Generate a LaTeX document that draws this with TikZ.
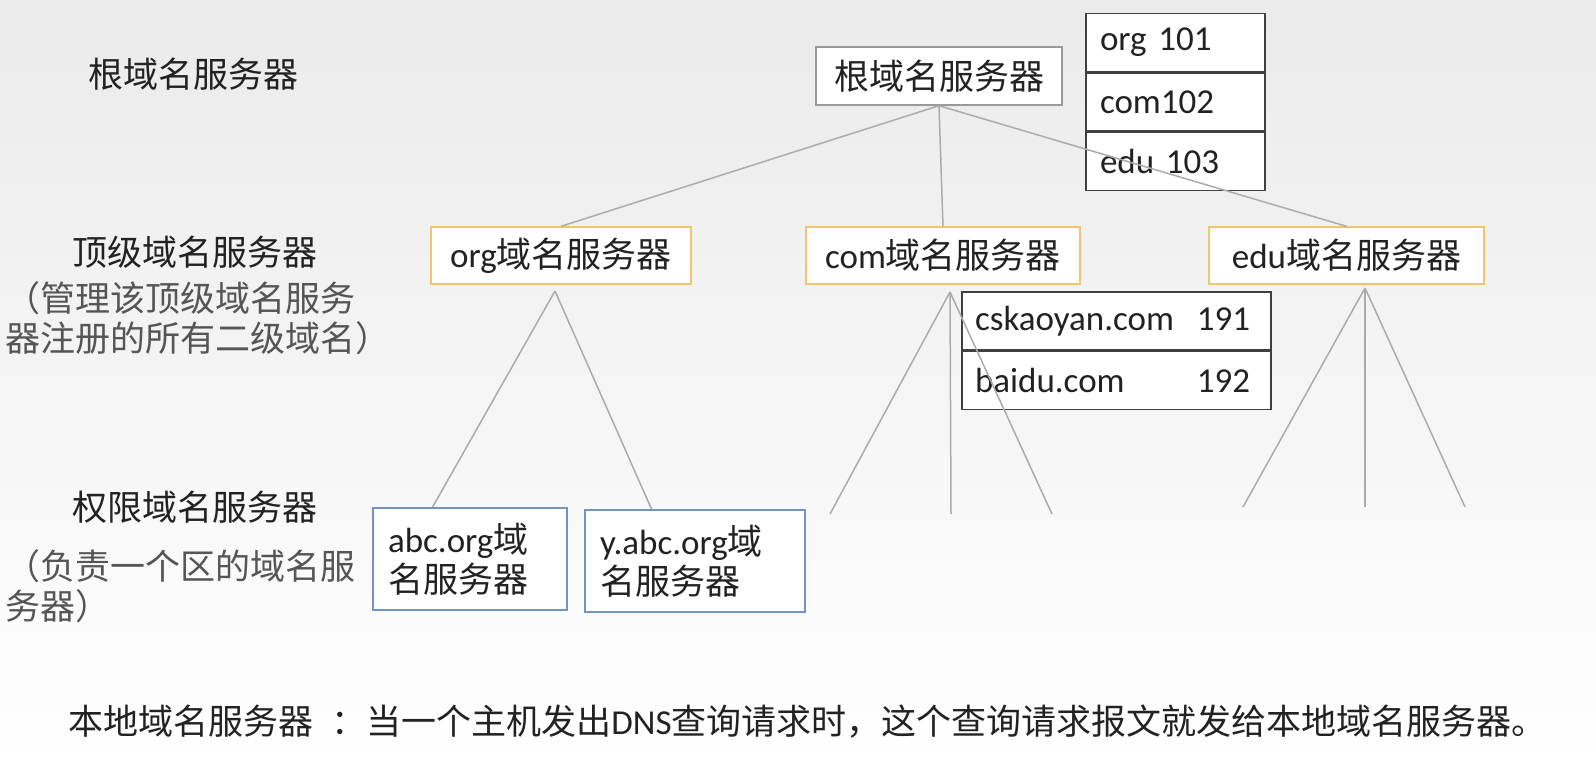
\documentclass[tikz,border=0pt]{standalone}
\usepackage{fontspec}
\setmainfont{Carlito}
\newfontfamily\cjk{Noto Sans CJK SC}
\usetikzlibrary{positioning}
\definecolor{ink}{HTML}{222222}
\definecolor{noteink}{HTML}{555555}
\definecolor{tldline}{HTML}{F2C46E}
\definecolor{authline}{HTML}{7393C2}
\definecolor{treeline}{HTML}{ABABAB}

\begin{document}
\begin{tikzpicture}[x=0.5pt,y=-0.5pt,
    every node/.style={font=\fontsize{17.5}{20}\selectfont, text=ink},
    rootbox/.style={draw=black!40, fill=white, line width=0.7pt, minimum width=123pt, minimum height=29pt, inner sep=0pt},
    tldbox/.style={draw=tldline, fill=white, line width=0.7pt, minimum height=28.5pt, inner sep=0pt},
    authbox/.style={draw=authline, fill=white, line width=0.7pt, minimum height=51pt, inner xsep=7.5pt, align=left},
    rowbox/.style={draw=black!75, fill=white, line width=0.7pt, minimum height=29pt, inner xsep=7pt, align=left},
    label/.style={anchor=west, inner sep=0pt, align=left},
    note/.style={label, text=noteink, font=\fontsize{17.5}{20}\selectfont\cjk},
    branch/.style={treeline, line width=0.75pt}]
    \useasboundingbox (0,0) rectangle (1596,767);
    \fill[top color=black!8, bottom color=white] (0,0) rectangle (1596,767);

    % level names on the left
    \node[label] (lroot) at (88,74) {\cjk 根域名服务器};
    \node[label] (ltld) at (72,252) {\cjk 顶级域名服务器};
    \node[note] (ntld) at (5,318) {（管理该顶级域名服务\\器注册的所有二级域名）};
    \node[label] (lauth) at (72,507) {\cjk 权限域名服务器};
    \node[note] (nauth) at (5,586) {（负责一个区的域名服\\务器）};

    % servers
    \node[rootbox] (root) at (939,76) {\cjk 根域名服务器};
    \node[tldbox, minimum width=130pt] (org) at (561,255.5) {org{\cjk 域名服务器}};
    \node[tldbox, minimum width=137pt] (com) at (943,255.5) {com{\cjk 域名服务器}};
    \node[tldbox, minimum width=137.5pt] (edu) at (1346.5,255.5) {edu{\cjk 域名服务器}};
    \node[authbox, text width=82pt] (abc) at (470,559) {abc.org{\cjk 域}\\{\cjk 名服务器}};
    \node[authbox, text width=95pt] (yabc) at (695,561) {y.abc.org{\cjk 域}\\{\cjk 名服务器}};

    % tables
    \node[rowbox, text width=75.5pt] (torg) at (1175.5,42.5) {org 101};
    \node[rowbox, text width=75.5pt, below=0pt of torg] (tcom) {com102};
    \node[rowbox, text width=75.5pt, below=0pt of tcom] (tedu) {edu 103};
    \node[rowbox, text width=141.5pt, inner xsep=6.5pt] (tcs) at (1116.5,321) {\makebox[111pt][l]{cskaoyan.com}191};
    \node[rowbox, text width=141.5pt, inner xsep=6.5pt, below=0pt of tcs] (tbd) {\makebox[111pt][l]{baidu.com}192};

    % tree
    \draw[branch] (root.south) -- (org.north);
    \draw[branch] (root.south) -- (com.north);
    \draw[branch] (root.south) -- (edu.north);
    \coordinate (orgfork) at (555,291);
    \draw[branch] (orgfork) -- (abc.126);
    \draw[branch] (orgfork) -- (yabc.130);
    \coordinate (comfork) at (950,292);
    \coordinate (edufork) at (1365,288);
    \foreach \x [count=\i] in {830,951,1052} {
        \coordinate (comleaf\i) at (\x,514);
        \draw[branch] (comfork) -- (comleaf\i);
    }
    \foreach \x [count=\i] in {1243,1365,1465} {
        \coordinate (eduleaf\i) at (\x,507);
        \draw[branch] (edufork) -- (eduleaf\i);
    }

    % footnote
    \node[label] (local) at (68,722) {{\cjk 本地域名服务器}\hspace{9pt}{\cjk ：当一个主机发出}DNS{\cjk 查询请求时，这个查询请求报文就发给本地域名服务器。}};
\end{tikzpicture}
\end{document}
